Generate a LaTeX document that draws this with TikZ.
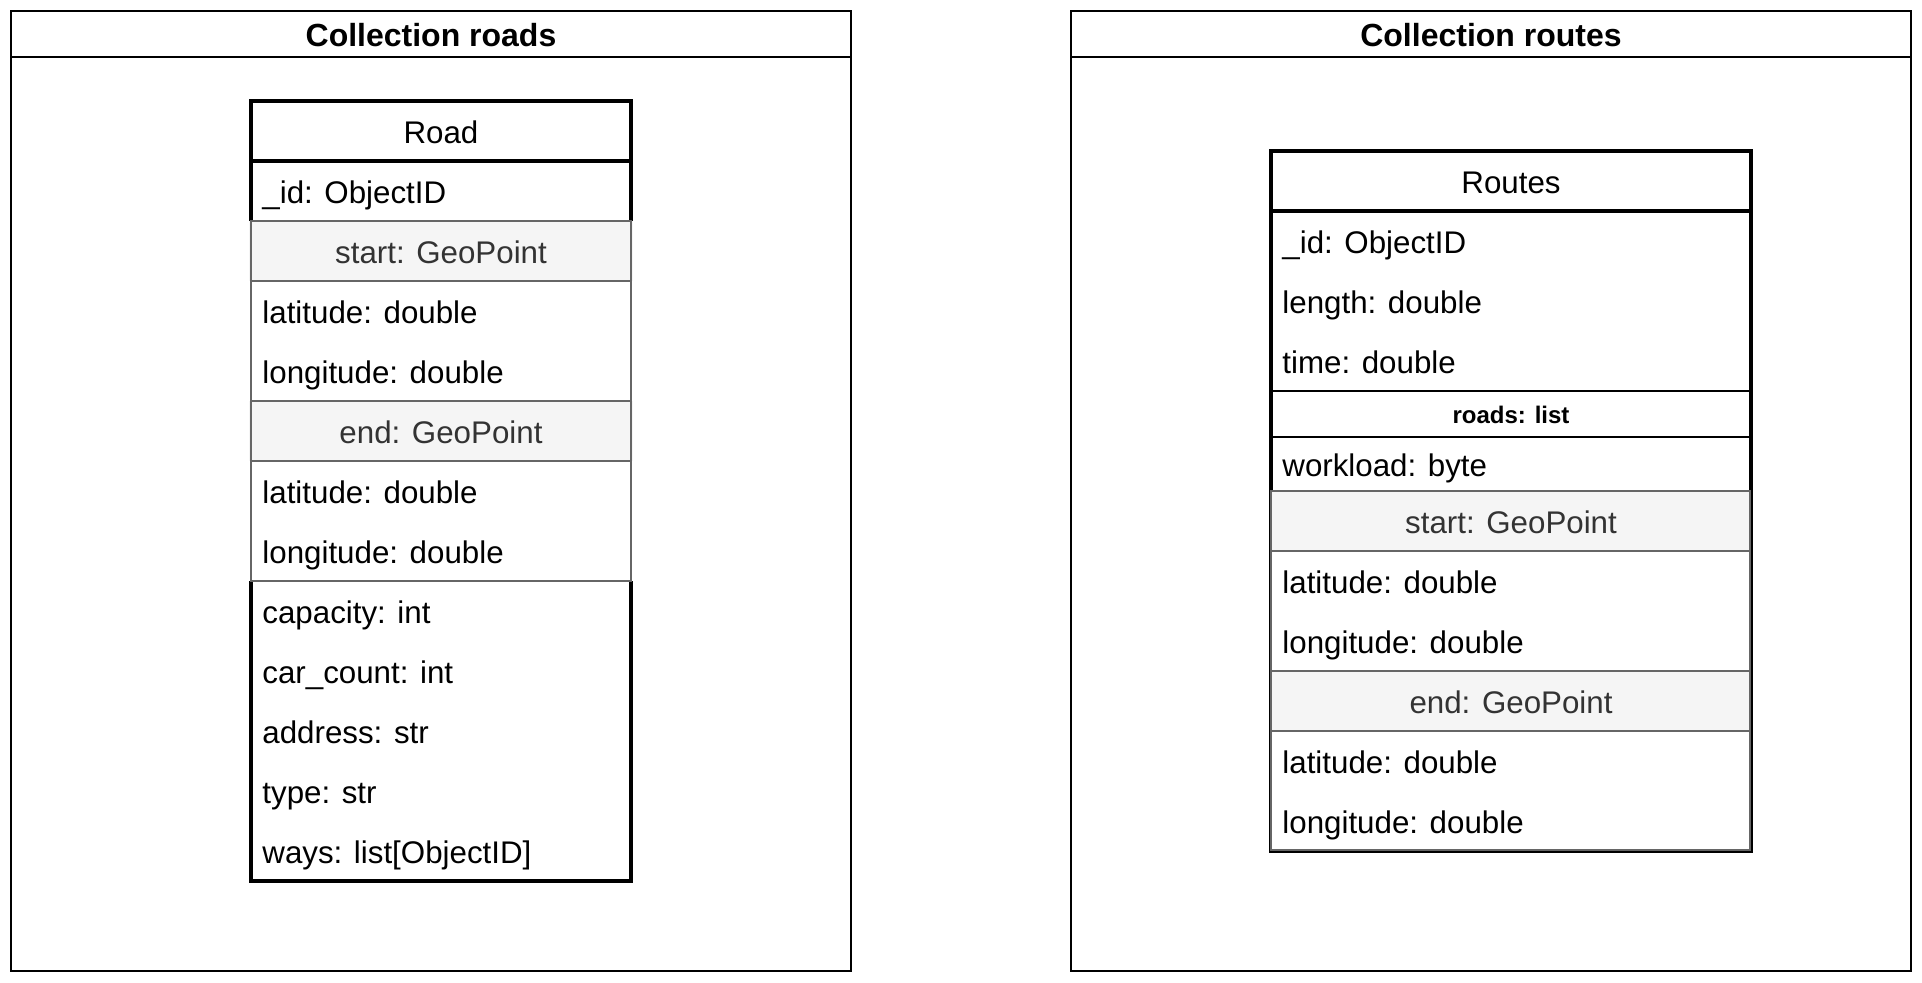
\documentclass[tikz,border=0pt]{standalone}
\usepackage{fontspec}
\setmainfont{Liberation Sans}
\definecolor{grayfill}{HTML}{F5F5F5}
\definecolor{graystroke}{HTML}{666666}
\definecolor{graytext}{HTML}{333333}
\begin{document}
\begin{tikzpicture}[x=0.5pt,y=-0.5pt,
  coll/.style={draw=black, line width=1pt},
  tbl/.style={draw=black, line width=2pt},
  sepline/.style={draw=black, line width=1pt},
  grp/.style={draw=graystroke, line width=1pt},
  fld/.style={anchor=west, inner sep=0pt, yshift=-0.7pt, text height=14.16pt, text depth=3.32pt, font=\fontsize{15.65}{19}\selectfont},
  ctr/.style={anchor=center, inner sep=0pt, yshift=-0.7pt, text height=14.16pt, text depth=3.32pt, font=\fontsize{15.65}{19}\selectfont},
  ttl/.style={anchor=center, inner sep=0pt, yshift=-0.5pt, text height=14.48pt, text depth=3.39pt, font=\fontsize{16}{19}\selectfont\bfseries},
  gtxt/.style={ctr, text=graytext},
  small/.style={anchor=center, inner sep=0pt, yshift=-0.5pt, text height=10.86pt, text depth=2.54pt, font=\fontsize{12}{14}\selectfont\bfseries}
]
\useasboundingbox (0,0) rectangle (1922,982);
\fill[white] (0,0) rectangle (1922,982);

% ---------- Collection roads ----------
\draw[coll] (11,11) rectangle (851,971);
\draw[coll] (11,57) -- (851,57);
\node[ttl] (titleRoads) at (431,34) {Collection roads};

% Road table
\filldraw[tbl, fill=white] (251,101) rectangle (631,881);
\draw[tbl] (251,161) -- (631,161);
% start group
\fill[grayfill] (249,221) rectangle (633,281);
\fill[white] (249,281) rectangle (633,401);
\draw[grp] (251,221) rectangle (631,401);
\draw[grp] (251,281) -- (631,281);
% end group
\fill[grayfill] (249,401) rectangle (633,461);
\fill[white] (249,461) rectangle (633,581);
\draw[grp] (251,401) rectangle (631,581);
\draw[grp] (251,461) -- (631,461);

\node[ctr] (roadHead) at (441,131) {Road};
\node[fld] (roadId) at (262,191) {\_id: ObjectID};
\node[gtxt] (roadStart) at (441,251) {start: GeoPoint};
\node[fld] (roadStartLat) at (262,311) {latitude: double};
\node[fld] (roadStartLon) at (262,371) {longitude: double};
\node[gtxt] (roadEnd) at (441,431) {end: GeoPoint};
\node[fld] (roadEndLat) at (262,491) {latitude: double};
\node[fld] (roadEndLon) at (262,551) {longitude: double};
\node[fld] (roadCap) at (262,611) {capacity: int};
\node[fld] (roadCars) at (262,671) {car\_count: int};
\node[fld] (roadAddr) at (262,731) {address: str};
\node[fld] (roadType) at (262,791) {type: str};
\node[fld] (roadWays) at (262,851) {ways: list[ObjectID]};

% ---------- Collection routes ----------
\draw[coll] (1071,11) rectangle (1911,971);
\draw[coll] (1071,57) -- (1911,57);
\node[ttl] (titleRoutes) at (1491,34) {Collection routes};

% Routes table
\filldraw[tbl, fill=white] (1271,151) rectangle (1751,851);
\draw[tbl] (1271,211) -- (1751,211);
\draw[sepline] (1271,391) -- (1751,391);
\draw[sepline] (1271,437) -- (1751,437);
% start group
\draw[grp, fill=grayfill] (1271,491) rectangle (1750,551);
\draw[grp, fill=white] (1271,551) rectangle (1750,671);
% end group
\draw[grp, fill=grayfill] (1271,671) rectangle (1750,731);
\draw[grp, fill=white] (1271,731) rectangle (1750,850);

\node[ctr] (routesHead) at (1511,181) {Routes};
\node[fld] (routesId) at (1282,241) {\_id: ObjectID};
\node[fld] (routesLen) at (1282,301) {length: double};
\node[fld] (routesTime) at (1282,361) {time: double};
\node[small] (routesRoads) at (1511,414) {roads: list};
\node[fld] (routesLoad) at (1282,464) {workload: byte};
\node[gtxt] (routesStart) at (1511,521) {start: GeoPoint};
\node[fld] (routesStartLat) at (1282,581) {latitude: double};
\node[fld] (routesStartLon) at (1282,641) {longitude: double};
\node[gtxt] (routesEnd) at (1511,701) {end: GeoPoint};
\node[fld] (routesEndLat) at (1282,761) {latitude: double};
\node[fld] (routesEndLon) at (1282,821) {longitude: double};
\end{tikzpicture}
\end{document}
